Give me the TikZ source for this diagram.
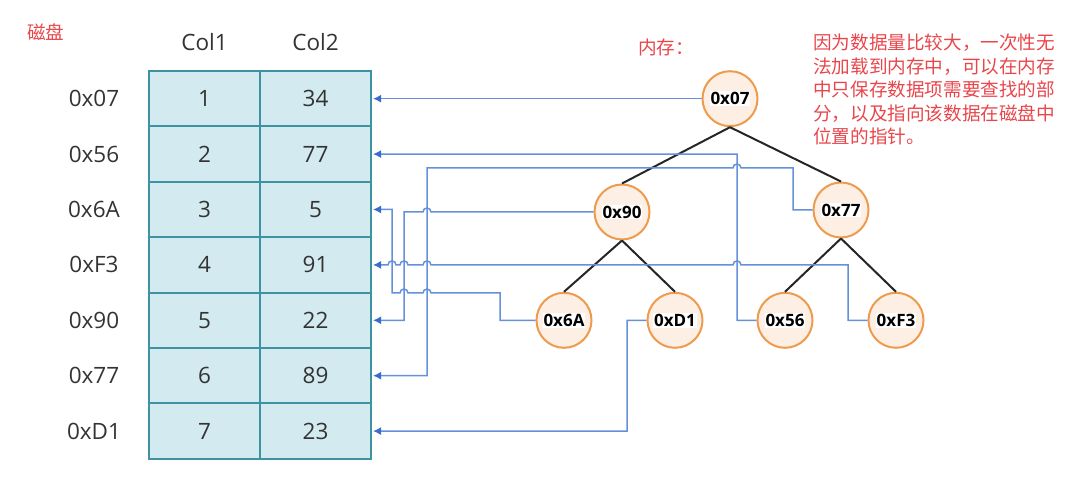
\documentclass[tikz,border=0pt]{standalone}
\usepackage{fontspec}
\setmainfont{Open Sans}
\newfontfamily\cjk{Noto Sans CJK SC}
\usepackage{xcolor}
\usepackage{tikz}
\usetikzlibrary{arrows.meta,positioning}

\definecolor{cellfill}{HTML}{D3EAF0}
\definecolor{cellline}{HTML}{3E93A3}
\definecolor{keyfill}{HTML}{FDEFE4}
\definecolor{keyline}{HTML}{EE9B4E}
\definecolor{ptrblue}{HTML}{6690DA}
\definecolor{ptrdark}{HTML}{3A6CCF}
\definecolor{notered}{HTML}{E8464B}
\definecolor{txtgray}{HTML}{333333}

\newcommand{\keylab}[1]{{\setlength{\fboxsep}{1pt}\colorbox{white}{#1}}}

\begin{document}
\begin{tikzpicture}[x=1pt,y=-1pt,
  cell/.style={draw=cellline,fill=cellfill,line width=2pt,minimum width=111pt,
    minimum height=55.4pt,inner sep=0pt,text=txtgray,font=\fontsize{22.5}{22.5}\selectfont},
  rowkey/.style={text=txtgray,inner sep=0pt,font=\fontsize{22.5}{22.5}\selectfont},
  keynode/.style={circle,draw=keyline,fill=keyfill,line width=2pt,minimum size=55pt,
    inner sep=0pt,font=\bfseries\fontsize{17}{17}\selectfont},
  edge/.style={black!85,line width=2pt},
  ptr/.style={ptrblue,line width=1.5pt,-{Latex[length=8pt,width=8pt,color=ptrdark]},shorten >=1pt},
  note/.style={text=notered,inner sep=0pt,font=\cjk\fontsize{18.6}{23.5}\selectfont}]
\useasboundingbox (0,0) rectangle (1082,478);
\node[note,anchor=west] (disk) at (27,32) {磁盘};
\node[rowkey] (h1) at (204.5,42) {Col1};
\node[rowkey] (h2) at (315.5,42) {Col2};
\foreach \i/\k/\a/\b in {1/0x07/1/34,2/0x56/2/77,3/0x6A/3/5,4/0xF3/4/91,5/0x90/5/22,6/0x77/6/89,7/0xD1/7/23}{
  \node[cell] (c1-\i) at (204.5,{71+55.4*(\i-0.5)}) {\a};
  \node[cell] (c2-\i) at (315.5,{71+55.4*(\i-0.5)}) {\b};
  \node[rowkey] (k\i) at (94,{71+55.4*(\i-0.5)}) {\k};
}
\node[note,anchor=west] (mem) at (638,47) {内存：};
\node[note,anchor=north west,align=left] (why) at (813,34)
  {因为数据量比较大，一次性无\\法加载到内存中，可以在内存\\中只保存数据项需要查找的部\\分，以及指向该数据在磁盘中\\位置的指针。};
\node[keynode] (n07) at (730,98.7) {\keylab{0x07}};
\node[keynode] (n90) at (622,212) {\keylab{0x90}};
\node[keynode] (n77) at (841,210) {\keylab{0x77}};
\node[keynode] (n6A) at (564,320.3) {\keylab{0x6A}};
\node[keynode] (nD1) at (675,320.3) {\keylab{0xD1}};
\node[keynode] (n56) at (785,320.3) {\keylab{0x56}};
\node[keynode] (nF3) at (896,320.3) {\keylab{0xF3}};
\draw[edge] (n07.south) -- (n90.north);
\draw[edge] (n07.south) -- (n77.north);
\draw[edge] (n90.south) -- (n6A.north);
\draw[edge] (n90.south) -- (nD1.north);
\draw[edge] (n77.south) -- (n56.north);
\draw[edge] (n77.south) -- (nF3.north);
\draw[ptr] (n07.west) -- (c2-1.east);
\draw[ptr] (n56.west) -| (737,154.1) -- (c2-2.east);
\draw[ptr] (n6A.west) -| (500,293) -- (431,293) arc (360:180:4) -- (408,293) arc (360:180:4)
  -- (392,293) |- (c2-3.east);
\draw[ptr] (nF3.west) -| (848,264.9) -- (741,264.9) arc (360:180:4) -- (431,264.9) arc (360:180:4)
  -- (408,264.9) arc (360:180:4) -- (396,264.9) arc (360:180:4) -- (c2-4.east);
\draw[ptr] (n90.west) -- (431,212) arc (360:180:4) -- (404,212) |- (c2-5.east);
\draw[ptr] (n77.west) -| (793,168) -- (741,168) arc (360:180:4) -- (427,168) |- (c2-6.east);
\draw[ptr] (nD1.west) -| (627,431.1) -- (c2-7.east);
\end{tikzpicture}
\end{document}
